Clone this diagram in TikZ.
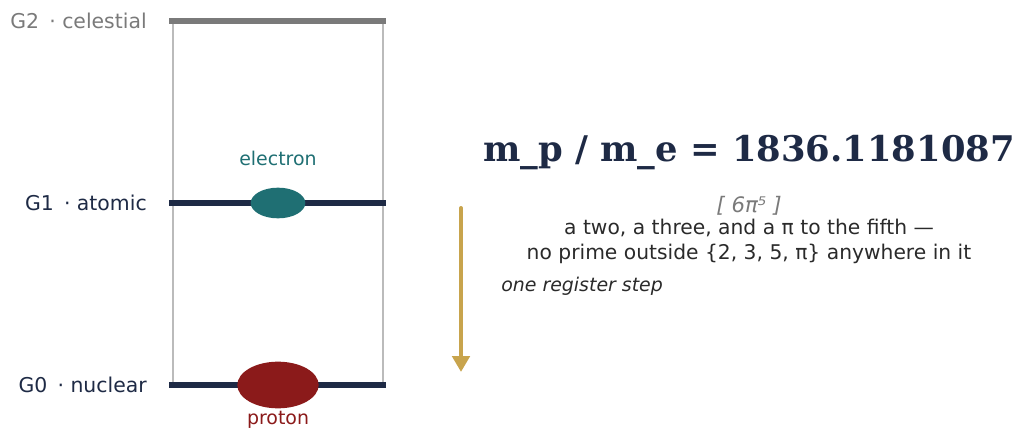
\documentclass[tikz,border=0pt]{standalone}
\usepackage{fontspec}
\usepackage{tikz}
\usetikzlibrary{arrows.meta, positioning, shapes.geometric, calc}
\setmainfont{DejaVu Sans}
\newfontfamily\titlefont{DejaVu Serif}
\definecolor{navy}{HTML}{1E2A45}
\definecolor{levelgray}{HTML}{7A7A7A}
\definecolor{wallgray}{HTML}{BBBBBB}
\definecolor{teal}{HTML}{1F6F73}
\definecolor{darkred}{HTML}{8B1A1A}
\definecolor{gold}{HTML}{C8A44D}
\definecolor{textgray}{HTML}{2A2A2A}

\begin{document}
\begin{tikzpicture}[x=0.75pt, y=-0.75pt, font=\fontsize{14.2}{17}\selectfont,
    levellabel/.style={anchor=east, inner sep=0pt, font=\fontsize{15.3}{18}\selectfont}]
  \useasboundingbox (0,0) rectangle (1014,428);

  % Wände
  \draw[wallgray, line width=1.5pt] (173,21) -- (173,385);
  \draw[wallgray, line width=1.5pt] (383,21) -- (383,385);

  % Ebenen
  \draw[levelgray, line width=3.8pt] (169,21) -- (386,21);
  \draw[navy, line width=3.8pt] (169,203) -- (386,203);
  \draw[navy, line width=3.8pt] (169,385) -- (386,385);

  \node[levellabel, levelgray] (g2) at (147,21) {G2\enspace· celestial};
  \node[levellabel, navy] (g1) at (147,203) {G1\enspace· atomic};
  \node[levellabel, navy] (g0) at (147,385) {G0\enspace· nuclear};

  % Teilchen
  \node[ellipse, fill=teal, minimum width=41pt, minimum height=23pt, inner sep=0pt] (electron) at (278,203) {};
  \node[teal] (elab) at (278,158) {electron};
  \node[ellipse, fill=darkred, minimum width=61pt, minimum height=35pt, inner sep=0pt] (proton) at (278,385) {};
  \node[darkred] (plab) at (278,420) {proton};

  % Pfeil
  \coordinate (stepa) at (461,208);
  \coordinate (stepb) at (461,372);
  \draw[gold, line width=3pt, line cap=round, -{Triangle[length=12pt, width=13pt]}] (stepa) -- (stepb);

  \node[navy, font=\titlefont\bfseries\fontsize{26.5}{30}\selectfont] (ratio) at (749,153) {m\_p / m\_e = 1836.1181087};
  \node[levelgray, font=\itshape\fontsize{16}{18}\selectfont] (form) at (749,206) {[ 6π⁵ ]};
  \node[textgray, align=center, font=\fontsize{15.2}{18.75}\selectfont] (desc) at (749,241) {a two, a three, and a π to the fifth —\\no prime outside \{2, 3, 5, π\} anywhere in it};
  \node[textgray, anchor=west, inner sep=0pt, font=\itshape\fontsize{14.2}{16}\selectfont] (steplab) at (501,286) {one register step};
\end{tikzpicture}
\end{document}
